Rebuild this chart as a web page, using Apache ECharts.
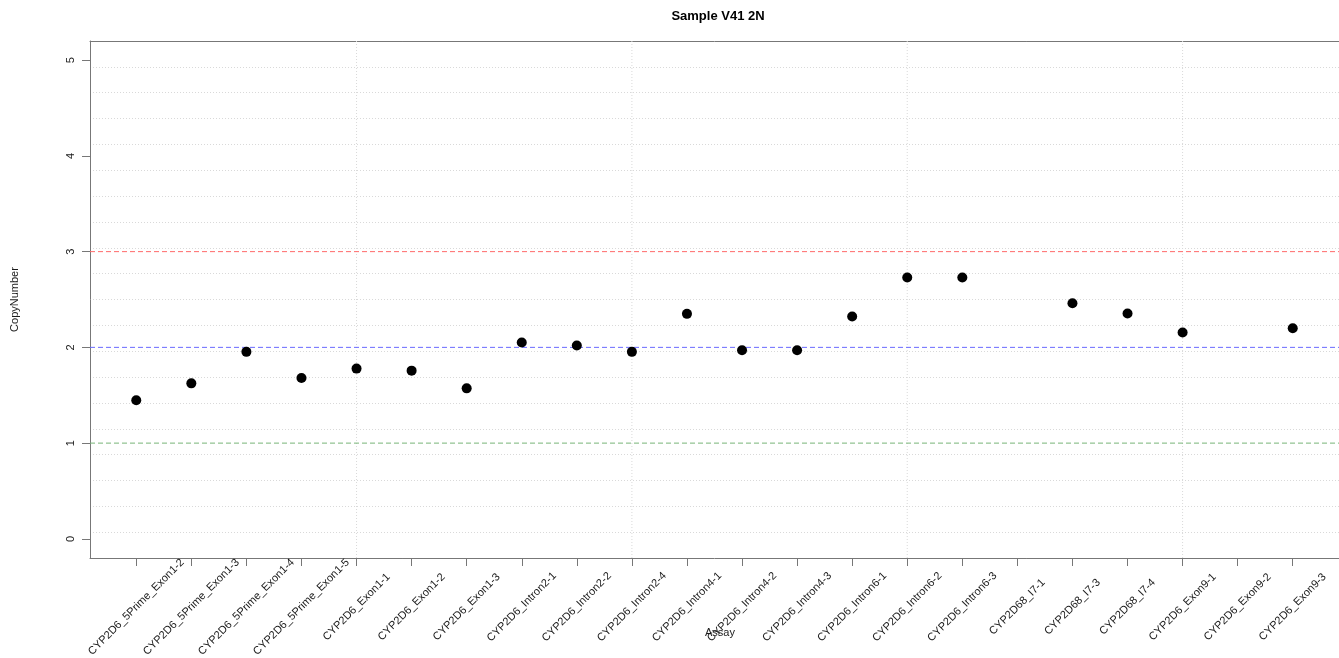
<!DOCTYPE html>
<html>
<head>
<meta charset="utf-8">
<script src="https://cdn.jsdelivr.net/npm/echarts@6/dist/echarts.min.js"></script>
<style>
html,body{margin:0;padding:0;background:#fff;}
#chart{width:1339px;height:658px;}
</style>
</head>
<body>
<div id="chart"></div>
<script>
const titleText = "Sample V41 2N";
const xAxisTitle = "Assay";
const yAxisTitle = "CopyNumber";
const categories = [
  "CYP2D6_5Prime_Exon1-2","CYP2D6_5Prime_Exon1-3","CYP2D6_5Prime_Exon1-4","CYP2D6_5Prime_Exon1-5",
  "CYP2D6_Exon1-1","CYP2D6_Exon1-2","CYP2D6_Exon1-3",
  "CYP2D6_Intron2-1","CYP2D6_Intron2-2","CYP2D6_Intron2-4",
  "CYP2D6_Intron4-1","CYP2D6_Intron4-2","CYP2D6_Intron4-3",
  "CYP2D6_Intron6-1","CYP2D6_Intron6-2","CYP2D6_Intron6-3",
  "CYP2D68_I7-1","CYP2D68_I7-3","CYP2D68_I7-4",
  "CYP2D6_Exon9-1","CYP2D6_Exon9-2","CYP2D6_Exon9-3"
];
const copyNumber = [
  1.447, 1.624, 1.953, 1.681,
  1.778, 1.757, 1.572,
  2.050, 2.019, 1.953,
  2.350, 1.970, 1.970,
  2.322, 2.730, 2.730,
  null, 2.461, 2.354,
  2.155, null, 2.200
];
const yTicks = [0, 1, 2, 3, 4, 5];
const refValues = [3, 2, 1];
const refColors = ["#ff6a6a", "#6a6aff", "#78b478"];
const gridXLines = [5, 10, 15, 20];

const X_MIN = 0.16, X_MAX = 22.84, Y_MIN = -0.2, Y_MAX = 5.2;

const positions = categories.map((c, i) => i + 1);
const points = [];
copyNumber.forEach((v, i) => { if (v !== null) points.push([i + 1, v]); });

const FONT = "'Liberation Sans', Arial, sans-serif";
const AXIS_COLOR = "#777777";
const TEXT_COLOR = "#1a1a1a";
const GRID_COLOR = "#d9d9d9";

function straight(data, color, dash, z, width) {
  return {
    type: "line", xAxisIndex: 0, yAxisIndex: 0, data: data,
    symbol: "none", silent: true, z: z, clip: true,
    lineStyle: { color: color, width: width, type: dash, opacity: 1, shadowBlur: 0 },
    emphasis: { disabled: true }
  };
}

const series = [];
gridXLines.forEach(x => series.push(straight([[x, Y_MIN], [x, Y_MAX]], GRID_COLOR, [1, 2], 1, 1)));
refValues.forEach((v, i) => series.push(straight([[X_MIN, v], [X_MAX, v]], refColors[i], [5, 3], 3, 1)));
series.push({
  type: "scatter", xAxisIndex: 0, yAxisIndex: 0,
  data: points, symbol: "circle", symbolSize: 10,
  itemStyle: { color: "#000000", opacity: 1, borderWidth: 0 },
  z: 10
});

const chart = echarts.init(document.getElementById("chart"), null, { renderer: "canvas" });
chart.setOption({
  animation: false,
  backgroundColor: "#ffffff",
  textStyle: { fontFamily: FONT },
  title: [
    {
      text: titleText,
      left: 713, top: 5, textAlign: "center",
      textStyle: { fontFamily: FONT, fontSize: 13, fontWeight: "bold", color: "#000" }
    },
    {
      text: xAxisTitle,
      left: 715, top: 622, textAlign: "center",
      textStyle: { fontFamily: FONT, fontSize: 11, fontWeight: "normal", color: TEXT_COLOR }
    }
  ],
  grid: { left: 90, right: 0, top: 41, bottom: 100, containLabel: false, outerBoundsMode: "none" },
  xAxis: [
    {
      type: "value", min: X_MIN, max: X_MAX, position: "bottom",
      axisLine: { show: true, onZero: false, lineStyle: { color: AXIS_COLOR, width: 1 } },
      axisTick: { show: true, length: 8, customValues: positions, lineStyle: { color: AXIS_COLOR } },
      axisLabel: {
        show: true, customValues: positions, rotate: 45, margin: 49,
        align: "center", verticalAlign: "middle",
        fontSize: 11, fontFamily: FONT, color: TEXT_COLOR,
        formatter: (v) => categories[Math.round(v) - 1]
      },
      splitLine: { show: false }
    },
    {
      type: "value", min: X_MIN, max: X_MAX, position: "top",
      axisLine: { show: true, onZero: false, lineStyle: { color: AXIS_COLOR, width: 1 } },
      axisTick: { show: false }, axisLabel: { show: false }, splitLine: { show: false }
    }
  ],
  yAxis: [
    {
      type: "value", min: Y_MIN, max: Y_MAX, position: "left",
      name: yAxisTitle, nameLocation: "middle", nameGap: 70, nameRotate: 90,
      nameMoveOverlap: false,
      nameTextStyle: { fontSize: 11, fontFamily: FONT, color: TEXT_COLOR },
      axisLine: { show: true, onZero: false, lineStyle: { color: AXIS_COLOR, width: 1 } },
      axisTick: { show: true, length: 8, customValues: yTicks, lineStyle: { color: AXIS_COLOR } },
      axisLabel: {
        show: true, customValues: yTicks, rotate: 90, margin: 14,
        fontSize: 11, fontFamily: FONT, color: TEXT_COLOR
      },
      splitLine: { show: false }
    },
    {
      type: "value", min: 0, max: 20, interval: 1, position: "right",
      axisLine: { show: false }, axisTick: { show: false }, axisLabel: { show: false },
      splitLine: { show: true, showMinLine: false, showMaxLine: false,
        lineStyle: { color: GRID_COLOR, width: 1, type: [1, 2] } }
    }
  ],
  series: series
});
</script>
</body>
</html>
